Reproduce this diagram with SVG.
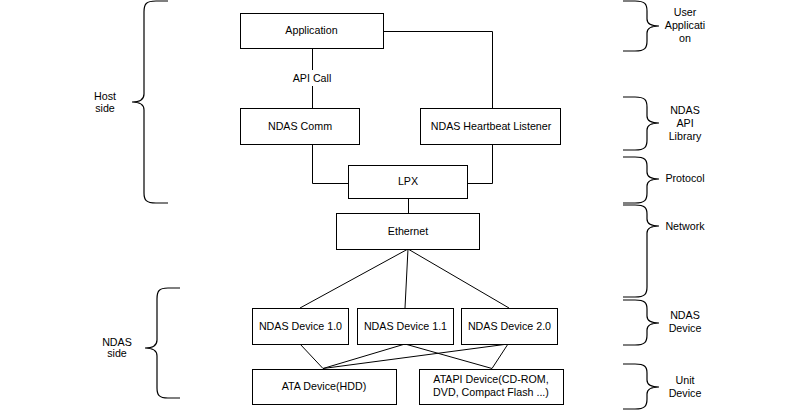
<svg xmlns="http://www.w3.org/2000/svg" width="801" height="410" viewBox="0 0 801 410">
<style>
.box{fill:#fff;stroke:#000;stroke-width:1}
.ln{fill:none;stroke:#000;stroke-width:1}
.br{fill:none;stroke:#000;stroke-width:1.2}
text{font-family:"Liberation Sans",Arial,sans-serif;font-size:10.7px;fill:#000;text-anchor:middle}
</style>
<rect width="801" height="410" fill="#fff"/>
<g id="connectors">
<path class="ln" d="M312.5,48 V108"/>
<path class="ln" d="M383,31.5 H492.5 V108"/>
<path class="ln" d="M312.5,144 V183.5 H348"/>
<path class="ln" d="M492.5,144 V183.5 H467"/>
<path class="ln" d="M408.5,198 V213"/>
<path class="ln" d="M408,249 L300,308 M408,249 L405,308 M408,249 L509,308"/>
<path class="ln" d="M300,344 L323,368.5 M405,344 L323,368.5 M405,344 L492,368.5 M508,344 L323,368.5 M508,344 L492,368.5"/>
<rect x="290" y="70" width="44" height="16" fill="#fff"/>
<text x="312" y="82">API Call</text>
</g>
<g id="application"><rect class="box" x="240.5" y="13.5" width="143" height="35"/><text x="311.5" y="34">Application</text></g>
<g id="ndas-comm"><rect class="box" x="240.5" y="108.5" width="119" height="36"/><text x="300" y="130">NDAS Comm</text></g>
<g id="heartbeat"><rect class="box" x="420.5" y="108.5" width="140" height="36"/><text x="491" y="130">NDAS Heartbeat Listener</text></g>
<g id="lpx"><rect class="box" x="348.5" y="165.5" width="119" height="33"/><text x="408" y="185">LPX</text></g>
<g id="ethernet"><rect class="box" x="336.5" y="213.5" width="143" height="36"/><text x="408" y="235">Ethernet</text></g>
<g id="ndas10"><rect class="box" x="252.5" y="308.5" width="96" height="36"/><text x="300.5" y="330">NDAS Device 1.0</text></g>
<g id="ndas11"><rect class="box" x="357.5" y="308.5" width="96" height="36"/><text x="405.5" y="330">NDAS Device 1.1</text></g>
<g id="ndas20"><rect class="box" x="461.5" y="308.5" width="96" height="36"/><text x="509.5" y="330">NDAS Device 2.0</text></g>
<g id="ata"><rect class="box" x="252.5" y="369.5" width="144" height="35"/><text x="324" y="390">ATA Device(HDD)</text></g>
<g id="atapi"><rect class="box" x="419.5" y="369.5" width="144" height="35"/><text x="491" y="383">ATAPI Device(CD-ROM,</text><text x="491" y="396">DVD, Compact Flash ...)</text></g>
<g id="brace-host"><path class="br" d="M168,1 L156,1 C146,1 144,4 144,12 L144,94 C144,99 140,102 132,102 C140,102 144,105 144,110 L144,193 C144,200 146,203 156,203 L168,203"/><text x="105" y="100">Host</text><text x="105" y="112">side</text></g>
<g id="brace-ndas-side"><path class="br" d="M180,288 L168,288 C159,288 157,291 157,299 L157,340 C157,345 153,348 145,348 C153,348 157,351 157,356 L157,388 C157,395 159,398 168,398 L180,398"/><text x="117" y="346">NDAS</text><text x="117" y="357">side</text></g>
<g id="brace-user"><path class="br" d="M623,1 L635,1 C645,1 647,4 647,11 L647,19 C647,24 651,26 659,26 C651,26 647,28 647,33 L647,41 C647,48 645,51 635,51 L623,51"/><text x="685" y="16">User</text><text x="685" y="29">Applicati</text><text x="685" y="42">on</text></g>
<g id="brace-api"><path class="br" d="M623,97 L635,97 C645,97 647,100 647,107 L647,116 C647,121 651,123 659,123 C651,123 647,125 647,130 L647,140 C647,147 645,150 635,150 L623,150"/><text x="685" y="114">NDAS</text><text x="685" y="127">API</text><text x="685" y="140">Library</text></g>
<g id="brace-protocol"><path class="br" d="M623,157 L635,157 C645,157 647,160 647,166 L647,172 C647,177 651,179 659,179 C651,179 647,181 647,186 L647,193 C647,200 645,203 635,203 L623,203"/><text x="685" y="182">Protocol</text></g>
<g id="brace-network"><path class="br" d="M623,205 L635,205 C645,205 647,208 647,214 L647,219 C647,224 651,226 659,226 C651,226 647,228 647,233 L647,287 C647,294 645,297 635,297 L623,297"/><text x="685" y="230">Network</text></g>
<g id="brace-device"><path class="br" d="M623,300 L635,300 C645,300 647,303 647,309 L647,316 C647,321 651,323 659,323 C651,323 647,325 647,330 L647,335 C647,342 645,345 635,345 L623,345"/><text x="685" y="319">NDAS</text><text x="685" y="332">Device</text></g>
<g id="brace-unit"><path class="br" d="M623,364 L635,364 C645,364 647,367 647,373 L647,380 C647,385 651,387 659,387 C651,387 647,389 647,394 L647,399 C647,406 645,409 635,409 L623,409"/><text x="685" y="384">Unit</text><text x="685" y="397">Device</text></g>
</svg>
